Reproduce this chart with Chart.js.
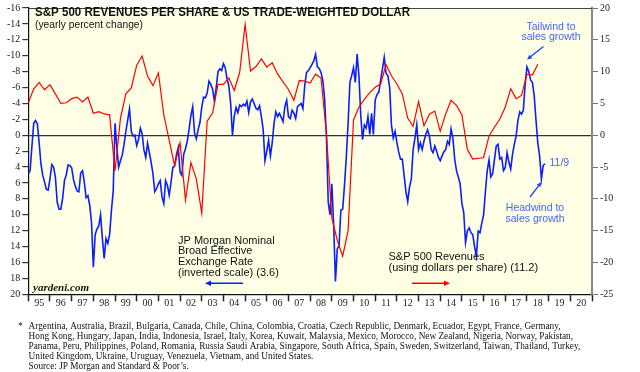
<!DOCTYPE html>
<html>
<head>
<meta charset="utf-8">
<script src="https://cdn.jsdelivr.net/npm/chart.js@4.4.0/dist/chart.umd.min.js"></script>
<style>
  html, body { margin: 0; padding: 0; background: #fff; }
  canvas { display: block; }
</style>
</head>
<body>
<canvas id="chart" width="640" height="372"></canvas>
<script>
// tick labels
const yearLabels = ['95', '96', '97', '98', '99', '00', '01', '02', '03', '04', '05', '06', '07',
  '08', '09', '10', '11', '12', '13', '14', '15', '16', '17', '18', '19', '20']
const yearTicks = [1995, 1996, 1997, 1998, 1999, 2000, 2001, 2002, 2003, 2004, 2005, 2006, 2007,
  2008, 2009, 2010, 2011, 2012, 2013, 2014, 2015, 2016, 2017, 2018, 2019, 2020, 2021]
const leftTicks = [-16, -14, -12, -10, -8, -6, -4, -2, 0, 2, 4, 6, 8, 10, 12, 14, 16, 18, 20]
const rightTicks = [20, 15, 10, 5, 0, -5, -10, -15, -20, -25]

// JP Morgan broad dollar, yearly % change, monthly from Jan 1995 (left axis, inverted)
const dollarYoY = [
  4.85, 4.45, 1.4, -1.5, -1.85, -1.45, 0.95, 3.6, 5.05, 5.9,
  6.8, 6.9, 5.5, 3.7, 4.0, 5.3, 8.4, 9.3, 9.3, 7.95,
  5.7, 5.0, 3.75, 3.8, 4.1, 5.55, 6.4, 7.0, 7.1, 4.75,
  4.45, 5.9, 7.85, 7.6, 8.8, 11.0, 16.6, 12.5, 11.8, 11.4,
  10.0, 13.0, 15.5, 13.0, 13.6, 12.5, 9.5, 7.0, -1.5, 1.5,
  4.0, 3.2, 2.5, 1.15, -0.5, -1.9, -3.3, -0.5, 0.1, 0.0,
  1.3, 0.55, -0.9, -0.2, 1.85, 2.8, 1.0, 2.2, 3.4, 4.85,
  7.1, 6.7, 6.1, 5.7, 7.75, 8.6, 5.7, 6.3, 7.55, 5.9,
  4.05, 3.85, 2.4, 1.55, 4.65, 5.05, 2.4, 1.7, 0.75, -0.8,
  -2.5, -3.6, -0.3, 0.45, -0.7, -1.6, -3.5, -4.8, -4.7, -5.3,
  -6.8, -6.4, -5.8, -4.3, -6.0, -8.0, -8.35, -8.15, -9.0, -8.5,
  -7.1, -6.2, -4.0, 0.0, -2.4, -3.5, -2.85, -3.8, -3.6, -3.9,
  -3.7, -4.3, -2.85, -4.2, -4.55, -4.0, -3.4, -3.2, -3.7, -2.35,
  -0.7, 3.2, 2.0, 0.6, 2.6, 0.95, -1.5, -2.95, -2.35, -2.75,
  -2.25, -1.7, -3.6, -4.4, -2.35, -2.1, -3.15, -2.8, -2.1, -3.6,
  -3.8, -4.0, -3.35, -6.25, -7.9, -8.1, -8.5, -8.9, -9.35, -10.2,
  -8.6, -8.4, -7.9, -6.9, -4.6, 0.1, 8.4, 10.0, 6.1, 11.2,
  18.4, 14.3, 13.9, 9.4, 9.3, 6.3, 2.8, -1.5, -6.65, -7.5,
  -8.5, -6.65, -10.2, -7.5, -2.55, 0.55, -1.3, -0.9, -2.35, -0.1,
  -2.75, -0.1, -4.4, -5.15, -5.4, -6.9, -8.3, -9.8, -7.8, -7.5,
  -6.05, -1.3, 0.35, -0.5, 0.9, 2.1, 3.0, 3.0, 5.05, 7.1,
  8.35, 6.5, 5.5, 1.8, 0.35, -1.3, 1.8, 0.95, 1.8, 0.75,
  -0.1, -0.7, 0.1, 1.8, 2.2, 1.35, 2.0, 2.8, 3.2, 2.6,
  2.1, 1.8, 0.75, 1.15, -0.8, 0.35, 3.0, 4.45, 5.25, 6.1,
  8.6, 9.7, 13.5, 12.05, 11.65, 12.25, 12.5, 14.0, 15.2, 12.05,
  12.25, 11.05, 10.0, 7.1, 4.45, 3.1, 5.25, 4.85, 3.1, 1.35,
  1.15, 3.0, 2.8, 4.45, 4.05, 2.2, 3.4, 4.25, 2.4, 1.15,
  0.1, -1.85, -2.95, -2.65, -3.15, -6.45, -8.6, -8.0, -6.95, -6.65,
  -5.0, -1.9, 0.95, 2.6, 5.5, 3.8, 3.6
]

// S&P 500 revenues per share, yearly % change, quarterly from Q1 1995 (right axis)
const revenueYoY = [
  5.1, 7.3, 8.3, 7.15, 7.95, 6.5, 5.0, 5.1, 5.75, 6.0,
  5.25, 6.0, 3.45, 3.7, 3.35, 3.2, -5.6, 2.65, 6.5, 7.45,
  11.0, 12.45, 9.3, 7.8, 9.8, 3.2, -0.8, -4.8, -1.2, -10.2,
  -4.3, -6.85, -12.25, 2.2, 3.5, 8.0, 8.0, 9.0, 7.05, 9.9,
  17.4, 10.1, 10.8, 12.0, 10.7, 11.4, 9.6, 8.4, 7.2, 5.5,
  8.6, 8.5, 8.2, 9.6, 9.0, 0.3, -13.0, -16.5, -19.0, -15.0,
  2.4, 4.45, 5.65, 6.7, 7.55, 8.05, 11.1, 9.35, 8.05, 6.5,
  2.7, 1.4, 5.3, 1.5, 3.3, 3.8, 0.6, 3.35, 5.5, 4.7,
  3.2, -2.2, -3.75, -3.65, -3.5, -0.15, 1.25, 2.55, 4.45, 7.3,
  5.75, 6.25, 9.6, 9.45, 11.15
]

const footerLines = [
  'Argentina, Australia, Brazil, Bulgaria, Canada, Chile, China, Colombia, Croatia, Czech Republic, Denmark, Ecuador, Egypt, France, Germany,',
  'Hong Kong, Hungary, Japan, India, Indonesia, Israel, Italy, Korea, Kuwait, Malaysia, Mexico, Morocco, New Zealand, Nigeria, Norway, Pakistan,',
  'Panama, Peru, Philippines, Poland, Romania, Russia Saudi Arabia, Singapore, South Africa, Spain, Sweden, Switzerland, Taiwan, Thailand, Turkey,',
  'United Kingdom, Ukraine, Uruguay, Venezuela, Vietnam, and United States.',
  'Source: JP Morgan and Standard & Poor\u2019s.'
]

const dollarPoints = dollarYoY.map((v, i) => ({ x: 1995 + i / 12, y: v }))
const revenuePoints = revenueYoY.map((v, i) => ({ x: 1995 + i / 4, y: v }))

const SERIF = '"Liberation Serif", "Times New Roman", serif'
const SANS = '"Liberation Sans", Arial, sans-serif'

function fitText(ctx, text, x, y, width) {
  const w = ctx.measureText(text).width
  ctx.save()
  ctx.translate(x, y)
  ctx.scale(width / w, 1)
  ctx.fillText(text, 0, 0)
  ctx.restore()
}

function arrow(ctx, x1, y1, x2, y2, color, lw, head) {
  const a = Math.atan2(y2 - y1, x2 - x1)
  ctx.save()
  ctx.strokeStyle = color
  ctx.fillStyle = color
  ctx.lineWidth = lw
  ctx.beginPath()
  ctx.moveTo(x1, y1)
  ctx.lineTo(x2 - Math.cos(a) * head * 0.8, y2 - Math.sin(a) * head * 0.8)
  ctx.stroke()
  ctx.beginPath()
  ctx.moveTo(x2, y2)
  ctx.lineTo(x2 - head * Math.cos(a) + head * 0.45 * Math.sin(a), y2 - head * Math.sin(a) - head * 0.45 * Math.cos(a))
  ctx.lineTo(x2 - head * Math.cos(a) - head * 0.45 * Math.sin(a), y2 - head * Math.sin(a) + head * 0.45 * Math.cos(a))
  ctx.closePath()
  ctx.fill()
  ctx.restore()
}

const decorations = {
  id: 'decorations',
  beforeDraw(chart) {
    const { ctx, chartArea: a } = chart
    ctx.save()
    ctx.fillStyle = '#ffffe6'
    ctx.fillRect(a.left, a.top, a.right - a.left, a.bottom - a.top)
    ctx.restore()
  },
  afterDraw(chart) {
    const { ctx, chartArea: a } = chart
    ctx.save()

    // top border
    ctx.strokeStyle = '#444'
    ctx.lineWidth = 1
    ctx.beginPath()
    ctx.moveTo(a.left, a.top + 0.5)
    ctx.lineTo(a.right, a.top + 0.5)
    ctx.stroke()

    ctx.textBaseline = 'middle'
    ctx.textAlign = 'left'

    // title
    ctx.fillStyle = '#111'
    ctx.font = 'bold 13px ' + SANS
    fitText(ctx, 'S&P 500 REVENUES PER SHARE & US TRADE-WEIGHTED DOLLAR', 35, 12, 375)
    ctx.font = '11px ' + SANS
    fitText(ctx, '(yearly percent change)', 35, 24.5, 108)

    // yardeni.com
    ctx.font = 'italic bold 11px ' + SERIF
    fitText(ctx, 'yardeni.com', 33, 288.5, 56)

    // series labels
    ctx.fillStyle = '#111'
    ctx.font = '11px ' + SANS
    const jp = ['JP Morgan Nominal', 'Broad Effective', 'Exchange Rate', '(inverted scale) (3.6)']
    jp.forEach((t, i) => ctx.fillText(t, 178, 240.5 + i * 10.8))
    arrow(ctx, 243, 283.3, 205, 283.3, '#0a1eff', 1.6, 6)

    const sp = ['S&P 500 Revenues', '(using dollars per share) (11.2)']
    sp.forEach((t, i) => ctx.fillText(t, 388.5, 257.3 + i * 11))
    arrow(ctx, 412, 283.3, 450, 283.3, '#ff0000', 1.6, 6)

    // wind notes
    ctx.fillStyle = '#4664ff'
    ctx.font = '10.5px ' + SANS
    ctx.textAlign = 'center'
    ctx.fillText('Tailwind to', 551, 26.7)
    ctx.fillText('sales growth', 551, 37.5)
    ctx.fillText('Headwind to', 535, 208.3)
    ctx.fillText('sales growth', 535, 219.3)
    ctx.textAlign = 'left'
    ctx.fillText('11/9', 549.5, 163.3)
    arrow(ctx, 543.5, 46.5, 527, 59.5, '#2040ff', 1.3, 5)
    arrow(ctx, 530, 197, 541.5, 182, '#2040ff', 1.3, 5)

    // footer
    ctx.fillStyle = '#111'
    ctx.font = '9.5px ' + SERIF
    const k = 532 / ctx.measureText(footerLines[0]).width
    ctx.fillText('*', 18, 326.5)
    footerLines.forEach((t, i) => {
      const w = ctx.measureText(t).width * k
      fitText(ctx, t, 28.6, 326 + i * 10.1, w)
    })

    ctx.restore()
  }
}

new Chart(document.getElementById('chart'), {
  type: 'line',
  data: {
    datasets: [
      {
        label: 'S&P 500 Revenues',
        data: revenuePoints,
        yAxisID: 'y2',
        borderColor: '#ff0000',
        borderWidth: 1.2,
        pointRadius: 0,
        tension: 0
      },
      {
        label: 'JP Morgan Nominal Broad Effective Exchange Rate',
        data: dollarPoints,
        yAxisID: 'y',
        borderColor: '#0a1eff',
        borderWidth: 1.6,
        pointRadius: 0,
        tension: 0
      }
    ]
  },
  options: {
    responsive: false,
    animation: false,
    events: [],
    layout: { padding: { top: 3, left: 0, right: 0, bottom: 0 } },
    plugins: {
      legend: { display: false },
      tooltip: { enabled: false }
    },
    scales: {
      x: {
        type: 'linear',
        min: 1995,
        max: 2021,
        afterBuildTicks: s => { s.ticks = yearTicks.map(v => ({ value: v })) },
        afterFit: s => { s.height = 77.7 },
        ticks: {
          autoSkip: false,
          maxRotation: 0,
          labelOffset: 10.83,
          padding: -4,
          color: '#222',
          font: { family: SERIF, size: 10 },
          callback: (v, i) => yearLabels[i] || ''
        },
        grid: { drawOnChartArea: false, tickLength: 7, tickColor: '#222', tickWidth: 1.5 },
        border: { color: '#111', width: 1.2 }
      },
      y: {
        type: 'linear',
        position: 'left',
        reverse: true,
        min: -16,
        max: 20,
        afterBuildTicks: s => { s.ticks = leftTicks.map(v => ({ value: v })) },
        afterFit: s => { s.width = 28.3 },
        ticks: {
          padding: 2,
          color: '#222',
          font: { family: SERIF, size: 10 },
          callback: v => String(v)
        },
        grid: {
          color: c => (c.tick && c.tick.value === 0 ? '#333' : 'rgba(0,0,0,0)'),
          lineWidth: 1.2,
          tickColor: '#333',
          tickLength: 6
        },
        border: { color: '#111', width: 1.2 }
      },
      y2: {
        type: 'linear',
        position: 'right',
        min: -25,
        max: 20,
        afterBuildTicks: s => { s.ticks = rightTicks.map(v => ({ value: v })) },
        afterFit: s => { s.width = 48 },
        ticks: {
          padding: 2,
          color: '#222',
          font: { family: SERIF, size: 10 },
          callback: v => String(v)
        },
        grid: { drawOnChartArea: false, tickColor: '#777', tickLength: 6 },
        border: { color: '#888', width: 2 }
      }
    }
  },
  plugins: [decorations]
})
</script>
</body>
</html>
